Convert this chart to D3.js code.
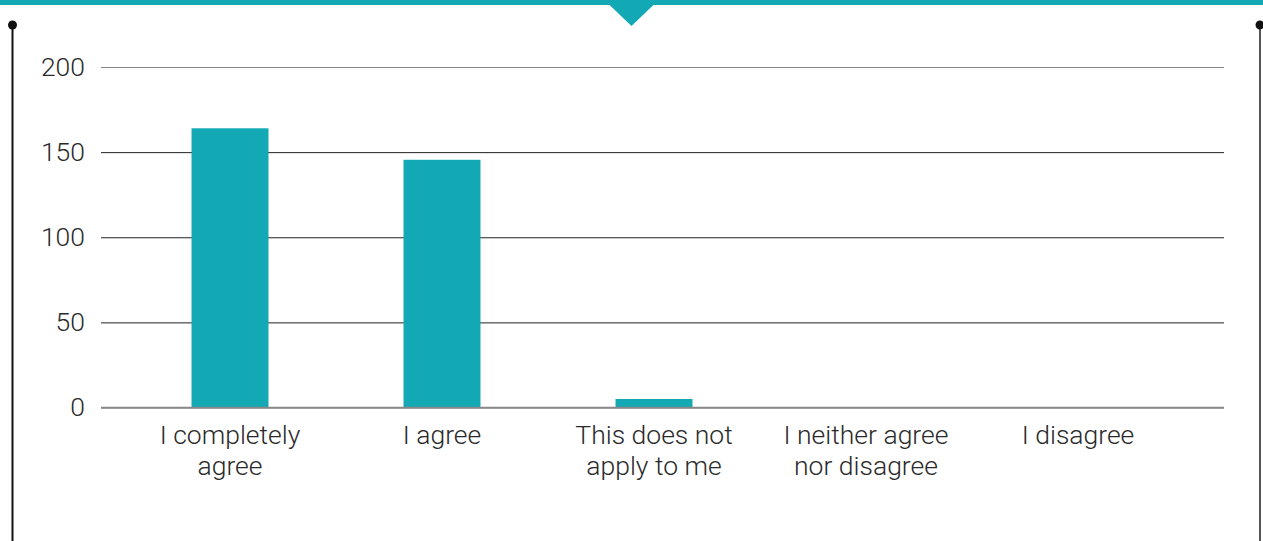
<!DOCTYPE html>
<html>
<head>
<meta charset="utf-8">
<script src="https://cdn.jsdelivr.net/npm/d3@7"></script>
<style>
  body { margin: 0; background: #fff; }
  svg { display: block; }
  .tick text, .cat { font-family: Roboto, "Noto Sans", sans-serif; font-weight: 300; fill: #2a2a2a; }
</style>
</head>
<body>
<div class="chart"></div>
<script>
const categories = ["I completely agree", "I agree", "This does not apply to me", "I neither agree nor disagree", "I disagree"]
const labelLines = [["I completely", "agree"], ["I agree"], ["This does not", "apply to me"], ["I neither agree", "nor disagree"], ["I disagree"]]
const values = [164, 145.5, 5, 0, 0]
const yTicks = [0, 50, 100, 150, 200]

const teal = "#12a9b5"
const width = 1263, height = 541
const margin = {top: 67, right: 39, bottom: 133, left: 101}

let svg = d3.select(".chart").append("svg")
  .attr("width", width)
  .attr("height", height)

// frame: top band, pointer, side rails
svg.append("rect").attr("x", 0).attr("y", 0).attr("width", width).attr("height", 5).attr("fill", teal)
svg.append("path")
  .attr("d", d3.line()([[width / 2 - 23, 4], [width / 2 + 23, 4], [width / 2, 26]]))
  .attr("fill", teal)

svg.append("line").attr("x1", 12.5).attr("x2", 12.5).attr("y1", 25).attr("y2", height)
  .attr("stroke", "#111").attr("stroke-width", 2)
svg.append("circle").attr("cx", 12.5).attr("cy", 25).attr("r", 4.5).attr("fill", "#111")
svg.append("line").attr("x1", 1260).attr("x2", 1260).attr("y1", 25).attr("y2", height)
  .attr("stroke", "#555").attr("stroke-width", 2)
svg.append("circle").attr("cx", 1260).attr("cy", 25).attr("r", 4.5).attr("fill", "#111")

let x = d3.scaleBand()
  .domain(categories)
  .range([margin.left, width - margin.right - 17])
  .paddingInner(0.637)
  .paddingOuter(0.427)

let y = d3.scaleLinear()
  .domain([0, 200])
  .range([height - margin.bottom - 0.5, margin.top])

// grid + y labels
let yaxis = svg.append("g")
  .attr("class", "y axis")
  .attr("transform", "translate(" + margin.left + ",0)")
  .call(d3.axisLeft(y)
    .tickValues(yTicks)
    .tickSize(-(width - margin.left - margin.right))
    .tickPadding(16))
yaxis.select(".domain").remove()
yaxis.selectAll(".tick line")
  .attr("stroke", d => (d === 0 || d === 200) ? "#888" : "#222")
  .attr("stroke-width", d => d === 0 ? 1.5 : 1)
yaxis.selectAll(".tick text")
  .style("font-size", "26.5px")

// bars
svg.append("g").selectAll("rect")
  .data(values)
  .join("rect")
  .attr("x", (d, i) => x(categories[i]))
  .attr("width", x.bandwidth())
  .attr("y", d => y(d))
  .attr("height", d => y(0) - y(d))
  .attr("fill", teal)

// baseline on top of bars
svg.append("line")
  .attr("x1", margin.left).attr("x2", width - margin.right)
  .attr("y1", y(0)).attr("y2", y(0))
  .attr("stroke", "#888").attr("stroke-width", 1.5)

// category labels
let cats = svg.append("g").selectAll("text")
  .data(labelLines)
  .join("text")
  .attr("class", "cat")
  .attr("text-anchor", "middle")
  .style("font-size", "26.5px")
  .attr("transform", (d, i) => "translate(" + (x(categories[i]) + x.bandwidth() / 2) + "," + (y(0) + 36) + ")")

cats.selectAll("tspan")
  .data(d => d)
  .join("tspan")
  .attr("x", 0)
  .attr("dy", (d, i) => i === 0 ? 0 : 31)
  .text(d => d)
</script>
</body>
</html>
